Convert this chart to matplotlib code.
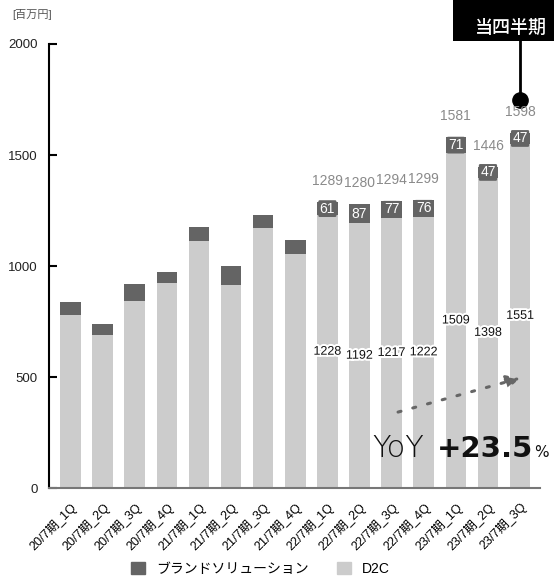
import matplotlib
matplotlib.use('Agg')
import matplotlib.pyplot as plt
import matplotlib.patheffects as pe
from matplotlib.patches import Patch, Rectangle, FancyArrowPatch


plt.rcParams['font.family'] = ['Liberation Sans', 'Noto Sans CJK JP', 'DejaVu Sans']

# data (百万円)
quarters = ['20/7期_1Q', '20/7期_2Q', '20/7期_3Q', '20/7期_4Q',
            '21/7期_1Q', '21/7期_2Q', '21/7期_3Q', '21/7期_4Q',
            '22/7期_1Q', '22/7期_2Q', '22/7期_3Q', '22/7期_4Q',
            '23/7期_1Q', '23/7期_2Q', '23/7期_3Q']
d2c = [778, 689, 842, 925, 1111, 913, 1170, 1053,
       1228, 1192, 1217, 1222, 1509, 1398, 1551]
brand = [58, 50, 77, 46, 65, 87, 60, 63,
         61, 87, 77, 76, 71, 47, 47]
totals = [836, 739, 919, 971, 1176, 1000, 1230, 1116,
          1289, 1280, 1294, 1299, 1581, 1446, 1598]
first_labeled = 8

dark = '#646464'
light = '#cccccc'

fig = plt.figure(figsize=(5.54, 5.82), dpi=100)
ax = fig.add_axes([0.0884, 0.1615, 0.8863, 0.7629])

x = list(range(len(quarters)))
ax.bar(x, d2c, width=0.64, color=light, label='D2C')
ax.bar(x, brand, width=0.64, bottom=d2c, color=dark, label='ブランドソリューション')

ax.set_xlim(-0.67, 14.62)
ax.set_ylim(0, 2000)

# labels on the recent quarters
for i in x[first_labeled:]:
    ax.text(i, d2c[i] / 2, str(d2c[i]), ha='center', va='center', fontsize=9,
            color='#111111',
            path_effects=[pe.withStroke(linewidth=3, foreground='white')])
    ax.text(i, d2c[i] + brand[i] / 2, str(brand[i]), ha='center', va='center',
            fontsize=10, color='white',
            bbox=dict(boxstyle='round,pad=0.1', fc=dark, ec='none'))
    ax.text(i, totals[i] + 95, str(totals[i]), ha='center', va='center',
            fontsize=10, color='#8a8a8a')

# axes style
for s in ['top', 'right']:
    ax.spines[s].set_visible(False)
ax.spines['left'].set_linewidth(1.5)
ax.spines['bottom'].set_color('#777777')
ax.spines['bottom'].set_linewidth(1.5)
ax.set_yticks([0, 500, 1000, 1500, 2000])
ax.tick_params(axis='y', direction='in', length=6, width=1.5, labelsize=9.5,
               pad=8, labelcolor='#222222')
ax.set_xticks(x)
ax.set_xticklabels(quarters, rotation=45, ha='right', va='top',
                   rotation_mode='anchor', fontsize=9)
ax.tick_params(axis='x', length=0, pad=9)

fig.text(0.022, 0.975, '[百万円]', fontsize=8, color='#555555', va='center')

# 当四半期 callout
fig.add_artist(Rectangle((453 / 554, 1 - 41 / 582), 0.3, 0.1,
                         transform=fig.transFigure, fc='black', ec='none'))
fig.text(475 / 554, 1 - 28 / 582, '当四半期', color='white', fontsize=13,
         fontweight='medium', va='center', ha='left')
ax.plot([14, 14], [1748, 2200], color='black', lw=2, clip_on=False)
ax.plot([14], [1748], 'o', color='black', ms=11, clip_on=False)

# YoY arrow
arrow = FancyArrowPatch((10.2, 342), (14.0, 495), arrowstyle='-|>',
                        mutation_scale=20, color='#666666', lw=2.2,
                        linestyle=(0, (1, 4)), shrinkA=0, shrinkB=0)
ax.add_patch(arrow)
fig.text(372 / 554, 1 - 457 / 582, 'YoY', fontsize=22, family='DejaVu Sans',
         fontweight='light', color='#111111', va='baseline')
fig.text(437 / 554, 1 - 457 / 582, '+23.5', fontsize=21, family='DejaVu Sans',
         fontweight='bold', color='#111111', va='baseline')
fig.text(534 / 554, 1 - 457 / 582, '%', fontsize=11, family='DejaVu Sans',
         color='#111111', va='baseline')

handles = [Patch(color=dark, label='ブランドソリューション'),
           Patch(color=light, label='D2C')]
fig.legend(handles=handles, loc='center', bbox_to_anchor=(0.47, 1 - 569 / 582),
           ncol=2, frameon=False, fontsize=10, handlelength=1.0,
           handleheight=1.0, columnspacing=2.0, handletextpad=0.8)

fig.savefig('out.png', dpi=100)
